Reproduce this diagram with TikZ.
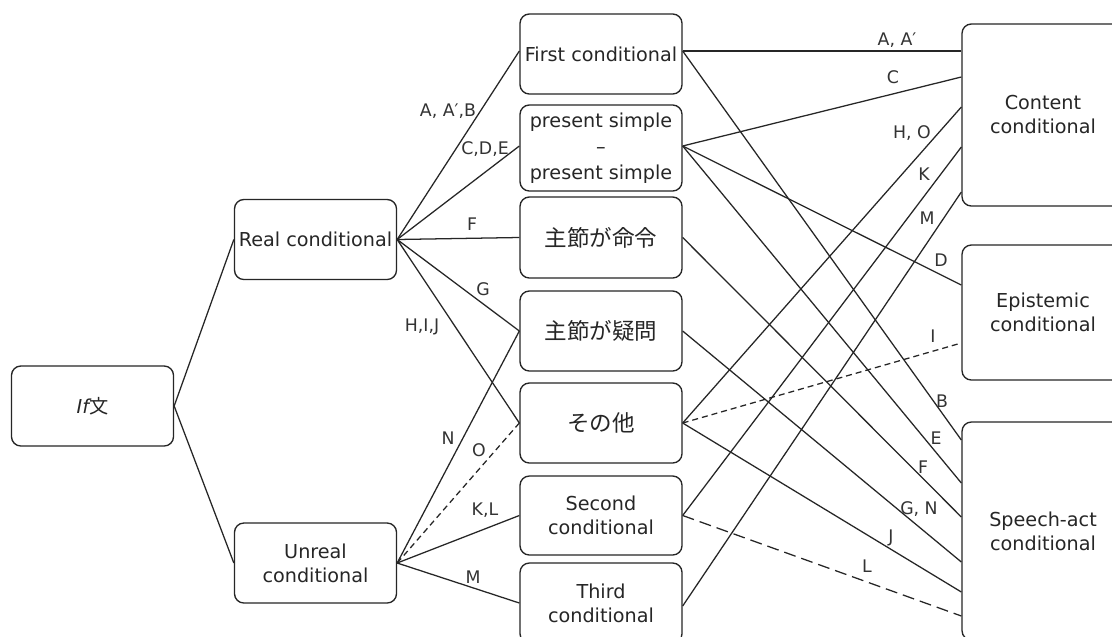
\documentclass[tikz,border=0pt]{standalone}
\usepackage{fontspec}
\setmainfont{DejaVu Sans}
\newfontfamily\jp{Noto Sans CJK JP}
\usetikzlibrary{calc}
\begin{document}
\begin{tikzpicture}[x=0.75pt,y=-0.75pt,
  box/.style={draw=black!85, line width=1pt, rounded corners=7pt, align=center,
    inner sep=0pt, text=black!85, font=\fontsize{14.4}{18}\selectfont,
    minimum width=121.5pt, minimum height=60pt},
  jpbox/.style={box, font=\jp\fontsize{16.9}{20}\selectfont},
  conn/.style={draw=black!85, line width=0.95pt},
  dsh/.style={conn, dash pattern=on 4.5pt off 3pt},
  ldsh/.style={conn, dash pattern=on 9pt off 4.5pt},
  lbl/.style={text=black!80, font=\fontsize{13}{15}\selectfont, inner sep=0pt}]
\fill[white] (0,0) rectangle (1112,636);
\useasboundingbox (0,0) rectangle (1112,636);
\clip (0,0) rectangle (1112,636);

% left column
\node[box] (if) at (92.5,406) {{\itshape If}{\jp 文}};
\node[box] (real) at (315.5,239.5) {Real conditional};
\node[box] (unreal) at (315.5,563) {Unreal\\conditional};

% middle column
\node[box] (fc) at (601,54) {First conditional};
\node[box, minimum height=64.5pt, font=\fontsize{14.4}{19.5}\selectfont] (ps) at (601,148) {present simple\\–\\present simple};
\node[jpbox, minimum height=60.75pt] (imp) at (601,237.5) {主節が命令};
\node[jpbox] (qst) at (601,331) {主節が疑問};
\node[jpbox] (oth) at (601,423) {その他};
\node[box, minimum height=59.25pt] (sc) at (601,515.5) {Second\\conditional};
\node[box] (tc) at (601,603) {Third\\conditional};

% right column
\node[box, minimum height=136.5pt] (ct) at (1043,115) {Content\\conditional};
\node[box, minimum height=101.25pt] (ep) at (1043,312.5) {Epistemic\\conditional};
\node[box, minimum height=163.5pt] (sa) at (1043,531) {Speech-act\\conditional};

% if -> real / unreal
\draw[conn] (if.east) -- (real.west);
\draw[conn] (if.east) -- (unreal.west);

% real conditional fan
\draw[conn] (real.east) -- (fc.west |- 0,51) node[lbl] (l1) at (448,111) {A, A′,B};
\draw[conn] (real.east) -- (ps.west |- 0,146) node[lbl] (l2) at (485,149) {C,D,E};
\draw[conn] (real.east) -- (imp.west) node[lbl] (l3) at (472,224) {F};
\draw[conn] (real.east) -- (qst.west) node[lbl] (l4) at (483,289) {G};
\draw[conn] (real.east) -- (oth.west) node[lbl] (l5) at (422,327) {H,I,J};

% unreal conditional fan
\draw[conn] (unreal.east) -- (qst.west) node[lbl] (l6) at (448,438) {N};
\draw[dsh] (unreal.east) -- (oth.west) node[lbl] (l7) at (479,450) {O};
\draw[conn] (unreal.east) -- (sc.west) node[lbl] (l8) at (485,510) {K,L};
\draw[conn] (unreal.east) -- (tc.west) node[lbl] (l9) at (473,577) {M};

% middle -> right
\draw[conn] (fc.east |- 0,51) -- (ct.west |- 0,51) node[lbl] (r1) at (897,40) {A, A′};
\draw[conn] (fc.east |- 0,51) -- (sa.west |- 0,440) node[lbl] (r2) at (942,401) {B};
\draw[conn] (ps.east |- 0,146) -- (ct.west |- 0,77) node[lbl] (r3) at (893,77) {C};
\draw[conn] (ps.east |- 0,146) -- (ep.west |- 0,285) node[lbl] (r4) at (941,260) {D};
\draw[conn] (ps.east |- 0,146) -- (sa.west |- 0,483) node[lbl] (r5) at (936,438) {E};
\draw[conn] (imp.east) -- (sa.west |- 0,517) node[lbl] (r6) at (923,467) {F};
\draw[conn] (qst.east) -- (sa.west |- 0,562) node[lbl] (r7) at (919,509) {G, N};
\draw[conn] (oth.east) -- (ct.west |- 0,107) node[lbl] (r8) at (912,133) {H, O};
\draw[dsh] (oth.east) -- (ep.west |- 0,343) node[lbl] (r9) at (933,336) {I};
\draw[conn] (oth.east) -- (sa.west |- 0,592) node[lbl] (r10) at (891,538) {J};
\draw[conn] (sc.east) -- (ct.west |- 0,147) node[lbl] (r11) at (924,174) {K};
\draw[ldsh] (sc.east) -- (sa.west |- 0,616) node[lbl] (r12) at (867,566) {L};
\draw[conn] (tc.east |- 0,606) -- (ct.west |- 0,192) node[lbl] (r13) at (927,218) {M};
\end{tikzpicture}
\end{document}
